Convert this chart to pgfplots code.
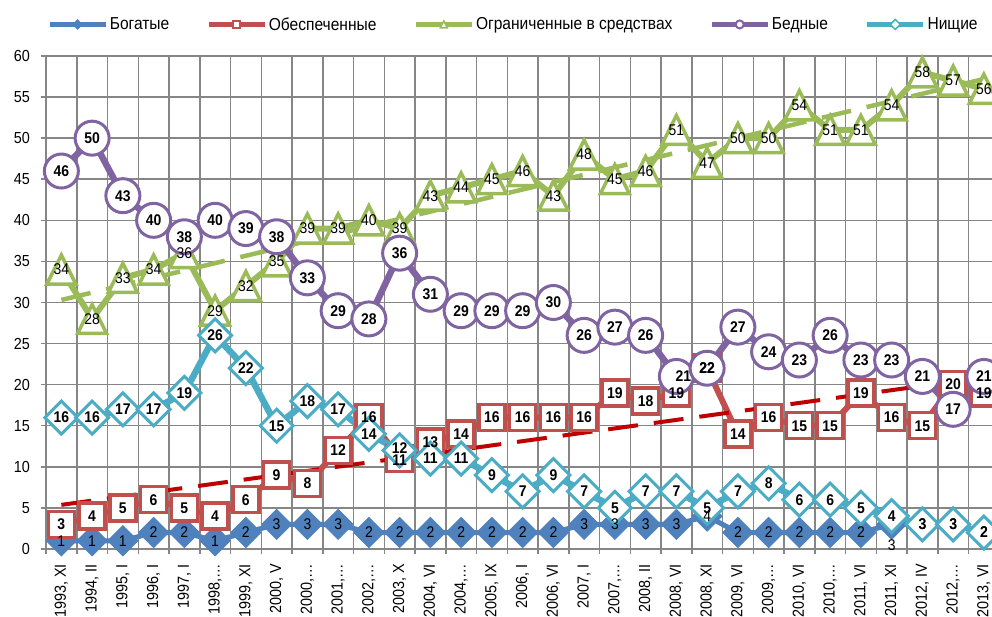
\documentclass[border=0pt]{standalone}
\usepackage{fontspec}
\setmainfont{Liberation Sans}[FakeStretch=0.9]
\usepackage{pgfplots}
\usepackage{pgfplotstable}
\pgfplotsset{compat=1.18}
\definecolor{cRich}{HTML}{4F81BD}
\definecolor{cProv}{HTML}{C0504D}
\definecolor{cLim}{HTML}{9BBB59}
\definecolor{cPoor}{HTML}{8064A2}
\definecolor{cBeg}{HTML}{4BACC6}
\definecolor{cTrendR}{HTML}{C00000}
\definecolor{cGrid}{HTML}{868686}

\pgfdeclareplotmark{xltri}{%
  \pgfpathmoveto{\pgfqpoint{0pt}{\pgfplotmarksize}}%
  \pgfpathlineto{\pgfqpoint{\pgfplotmarksize}{-\pgfplotmarksize}}%
  \pgfpathlineto{\pgfqpoint{-\pgfplotmarksize}{-\pgfplotmarksize}}%
  \pgfpathclose
  \pgfusepath{fill,stroke}}
\pgfdeclareplotmark{xldiamond}{%
  \pgfpathmoveto{\pgfqpoint{0pt}{\pgfplotmarksize}}%
  \pgfpathlineto{\pgfqpoint{\pgfplotmarksize}{0pt}}%
  \pgfpathlineto{\pgfqpoint{0pt}{-\pgfplotmarksize}}%
  \pgfpathlineto{\pgfqpoint{-\pgfplotmarksize}{0pt}}%
  \pgfpathclose
  \pgfusepath{fill,stroke}}

\newcommand{\lbl}{\fontsize{15.5}{15.5}\selectfont}
\newcommand{\txt}{\fontsize{16}{16}\selectfont}
\newcommand{\legtxt}{\fontsize{17.3}{17.3}\selectfont}

\pgfplotstableread{
x rich prov lim poor beg
0 1 3 34 46 16
1 1 4 28 50 16
2 1 5 33 43 17
3 2 6 34 40 17
4 2 5 36 38 19
5 1 4 29 40 26
6 2 6 32 39 22
7 3 9 35 38 15
8 3 8 39 33 18
9 3 12 39 29 17
10 2 16 40 28 14
11 2 11 39 36 12
12 2 13 43 31 11
13 2 14 44 29 11
14 2 16 45 29 9
15 2 16 46 29 7
16 2 16 43 30 9
17 3 16 48 26 7
18 3 19 45 27 5
19 3 18 46 26 7
20 3 19 51 21 7
21 4 22 47 22 5
22 2 14 50 27 7
23 2 16 50 24 8
24 2 15 54 23 6
25 2 15 51 26 6
26 2 19 51 23 5
27 3 16 54 23 4
28 3 15 58 21 3
29 3 20 57 17 3
30 2 19 56 21 2
}\data

\begin{document}
\begin{tikzpicture}
\path[use as bounding box] (0,0) rectangle (992pt,617pt);
\clip (0,0) rectangle (992pt,617pt);
\begin{axis}[
  at={(46pt,68pt)}, anchor=south west,
  scale only axis, width=953.25pt, height=493pt,
  xmin=-0.5, xmax=30.5, ymin=0, ymax=60,
  ytick={0,5,...,60},
  xtick={0,...,30},
  xticklabels={{1993, XI},{1994, II},{1995, I},{1996, I},{1997, I},{1998,…},{1999, XI},{2000, V},{2000,…},{2001,…},{2002,…},{2003, X},{2004, VI},{2004,…},{2005, IX},{2006, I},{2006, VI},{2007, I},{2007,…},{2008, II},{2008, VI},{2008, XI},{2009, VI},{2009,…},{2010, VI},{2010,…},{2011, VI},{2011, XI},{2012, IV},{2012,…},{2013, VI}},
  minor xtick={-0.5,0.5,...,30.5},
  xminorgrids=true, ymajorgrids=true,
  grid style={cGrid, line width=1.5pt},
  minor grid style={cGrid, line width=1.5pt},
  axis x line*=bottom, axis y line*=left,
  axis line style={cGrid, line width=1.5pt, -},
  major x tick style={draw=none},
  minor x tick style={cGrid, line width=1.5pt},
  y tick style={cGrid, line width=1.5pt},
  minor tick length=10pt, major tick length=10pt, tick align=center,
  /pgf/number format/assume math mode=true,
  tick label style={font=\txt, text=black},
  x tick label style={rotate=90, anchor=east, inner sep=1pt},
  xticklabel shift=9pt,
  y tick label style={anchor=east, inner sep=1pt},
  yticklabel shift=10pt,
  legend columns=5,
  legend style={draw=none, fill=none, at={(0.4904,1.064)}, anchor=center, font=\legtxt,
    /tikz/every even column/.append style={column sep=35pt}, nodes={inner sep=2pt}},
  legend image code/.code={\draw[#1, mark repeat=2, mark phase=2] plot coordinates {(0pt,0pt) (28pt,0pt) (56pt,0pt)};},
]
\addlegendimage{cRich, line width=4.5pt, mark=xldiamond, mark size=5pt, mark options={fill=cRich, draw=cRich, line width=0.5pt}}
\addlegendentry{Богатые}
\addlegendimage{cProv, line width=4.5pt, mark=square*, mark size=3.5pt, mark options={fill=white, draw=cProv, line width=2pt}}
\addlegendentry{Обеспеченные}
\addlegendimage{cLim, line width=4.5pt, mark=xltri, mark size=3.5pt, mark options={fill=white, draw=cLim, line width=1.5pt}}
\addlegendentry{Ограниченные в средствах}
\addlegendimage{cPoor, line width=4.5pt, mark=*, mark size=4pt, mark options={fill=white, draw=cPoor, line width=2pt}}
\addlegendentry{Бедные}
\addlegendimage{cBeg, line width=4.5pt, mark=xldiamond, mark size=5pt, mark options={fill=white, draw=cBeg, line width=1.5pt}}
\addlegendentry{Нищие}

% series
\addplot[forget plot, cRich, line width=5pt, mark=xldiamond, mark size=15pt,
  mark options={fill=cRich, draw=cRich, line width=1pt}] table[x=x, y=rich] {\data};
\addplot[forget plot, cProv, line width=6pt, mark=square*, mark size=13pt,
  mark options={fill=white, draw=cProv, line width=3.5pt}] table[x=x, y=prov] {\data};
\addplot[forget plot, cLim, line width=6pt, mark=xltri, mark size=14.5pt,
  mark options={fill=white, draw=cLim, line width=3.5pt}] table[x=x, y=lim] {\data};
\addplot[forget plot, cPoor, line width=6.5pt, mark=*, mark size=17pt,
  mark options={fill=white, draw=cPoor, line width=3pt}] table[x=x, y=poor] {\data};
\addplot[forget plot, cBeg, line width=6.5pt, mark=xldiamond, mark size=16.5pt,
  mark options={fill=white, draw=cBeg, line width=3pt}] table[x=x, y=beg] {\data};

% linear trends
\addplot[forget plot, cTrendR, line width=4pt, dash pattern=on 30pt off 16pt] coordinates {(0,5.37) (30,20.88)};
\addplot[forget plot, cLim, line width=4.5pt, dash pattern=on 30pt off 16pt] coordinates {(0,30.31) (30,57.2)};

% data labels
\addplot[forget plot, draw=none, point meta=explicit symbolic, nodes near coords,
  visualization depends on={x \as \xi},
  every node near coord/.append style={anchor=center, inner sep=0pt, font=\lbl,
    yshift={-21*(\xi==27)}}] table[x=x, y=rich, meta=rich] {\data};
\addplot[forget plot, draw=none, point meta=explicit symbolic, nodes near coords,
  visualization depends on={x \as \xi},
  every node near coord/.append style={anchor=center, inner sep=0pt, font=\lbl\bfseries,
    yshift={-2*(\xi==11)}}] table[x=x, y=prov, meta=prov] {\data};
\addplot[forget plot, draw=none, point meta=explicit symbolic, nodes near coords,
  every node near coord/.append style={anchor=center, inner sep=0pt, font=\lbl}] table[x=x, y=lim, meta=lim] {\data};
\addplot[forget plot, draw=none, point meta=explicit symbolic, nodes near coords,
  visualization depends on={x \as \xi},
  every node near coord/.append style={anchor=center, inner sep=0pt, font=\lbl\bfseries,
    xshift={7*(\xi==20)}}] table[x=x, y=poor, meta=poor] {\data};
\addplot[forget plot, draw=none, point meta=explicit symbolic, nodes near coords,
  visualization depends on={x \as \xi},
  every node near coord/.append style={anchor=center, inner sep=0pt, font=\lbl\bfseries,
    yshift={2*(\xi==11)}}] table[x=x, y=beg, meta=beg] {\data};
\end{axis}
\end{tikzpicture}
\end{document}
